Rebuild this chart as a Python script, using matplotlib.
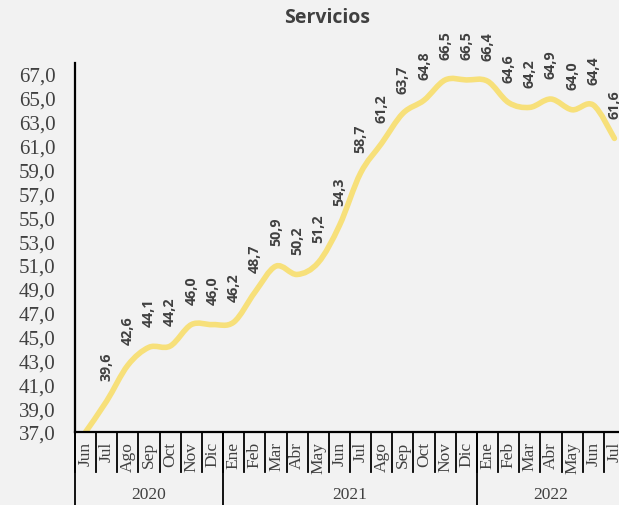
import matplotlib
matplotlib.use("Agg")
import matplotlib.pyplot as plt
import matplotlib.transforms as mtransforms
from matplotlib.path import Path
from matplotlib.patches import PathPatch
import numpy as np

# Servicios index, Jun 2020 - Jul 2022
MONTHS = ["Jun", "Jul", "Ago", "Sep", "Oct", "Nov", "Dic",
          "Ene", "Feb", "Mar", "Abr", "May", "Jun", "Jul", "Ago", "Sep", "Oct", "Nov", "Dic",
          "Ene", "Feb", "Mar", "Abr", "May", "Jun", "Jul"]
YEARS = ["2020", "2021", "2022"]
YEAR_COUNTS = [7, 12, 7]
VALUES = [37.0, 39.6, 42.6, 44.1, 44.2, 46.0, 46.0,
          46.2, 48.7, 50.9, 50.2, 51.2, 54.3, 58.7, 61.2, 63.7, 64.8, 66.5, 66.5,
          66.4, 64.6, 64.2, 64.9, 64.0, 64.4, 61.6]
# the first point carries no label in the original
SHOW_LABEL = [False] + [True] * (len(VALUES) - 1)
YTICKS = [37, 39, 41, 43, 45, 47, 49, 51, 53, 55, 57, 59, 61, 63, 65, 67]

BG = "#F2F2F2"
LINE = "#F7E07A"
TXT = "#404040"
SERIF = "Liberation Serif"
SANS = "Open Sans"

W, H = 619, 506
fig = plt.figure(figsize=(W / 100, H / 100), dpi=100, facecolor=BG)
ax = fig.add_axes([75 / W, 73 / H, 550 / W, 369 / H])
ax.set_facecolor(BG)

x = np.arange(len(VALUES))
y = np.array(VALUES)

# Excel-style smoothed line: cubic Bezier through the data points
verts = [(x[0], y[0])]
codes = [Path.MOVETO]
n = len(x)
for i in range(n - 1):
    p0 = np.array([x[max(i - 1, 0)], y[max(i - 1, 0)]])
    p1 = np.array([x[i], y[i]])
    p2 = np.array([x[i + 1], y[i + 1]])
    p3 = np.array([x[min(i + 2, n - 1)], y[min(i + 2, n - 1)]])
    c1 = p1 + (p2 - p0) / 6
    c2 = p2 - (p3 - p1) / 6
    verts += [tuple(c1), tuple(c2), tuple(p2)]
    codes += [Path.CURVE4] * 3
ax.add_patch(PathPatch(Path(verts, codes), fill=False, edgecolor=LINE,
                       linewidth=4.0, capstyle="round", joinstyle="round"))

for xi, v, show in zip(x, VALUES, SHOW_LABEL):
    if not show:
        continue
    ax.annotate(f"{v:.1f}".replace(".", ","), (xi, v), xytext=(0, 15),
                textcoords="offset points", rotation=90, ha="center", va="bottom",
                fontsize=10.3, fontweight="bold", color=TXT, family=SANS,
                annotation_clip=False)

ax.set_xlim(-0.5, len(VALUES) - 0.5)
ax.set_ylim(37, 67.92)
ax.set_yticks(YTICKS)
ax.set_yticklabels([f"{t:.1f}".replace(".", ",") for t in YTICKS],
                   family=SERIF, fontsize=15, color=TXT)
ax.tick_params(axis="y", length=0, pad=14)
ax.set_xticks([])

for s in ["top", "right"]:
    ax.spines[s].set_visible(False)
ax.spines["left"].set_linewidth(1.6)
ax.spines["bottom"].set_linewidth(1.6)

# two-level category axis drawn under the plot
trans = mtransforms.blended_transform_factory(ax.transData, ax.transAxes)
px = 1 / 369  # one pixel in axes-height units
for i in range(len(VALUES) + 1):
    ax.plot([i - 0.5, i - 0.5], [0, -40 * px], color="black", lw=1.3,
            transform=trans, clip_on=False)
for i, m in enumerate(MONTHS):
    ax.text(i, -9 * px, m, rotation=90, ha="center", va="top", family=SERIF,
            fontsize=12.5, color=TXT, transform=trans)
start = 0
for yr, cnt in zip(YEARS, YEAR_COUNTS):
    ax.plot([start - 0.5, start - 0.5], [0, -75 * px], color="black", lw=1.3,
            transform=trans, clip_on=False)
    ax.text(start - 0.5 + cnt / 2, -62 * px, yr, ha="center", va="center",
            family=SERIF, fontsize=12.5, color=TXT, transform=trans)
    start += cnt

fig.text(327 / W, 1 - 18 / H, "Servicios", ha="center", va="center",
         fontsize=14, fontweight="bold", color=TXT, family=SANS)

fig.savefig("out.png", dpi=100, facecolor=BG)
